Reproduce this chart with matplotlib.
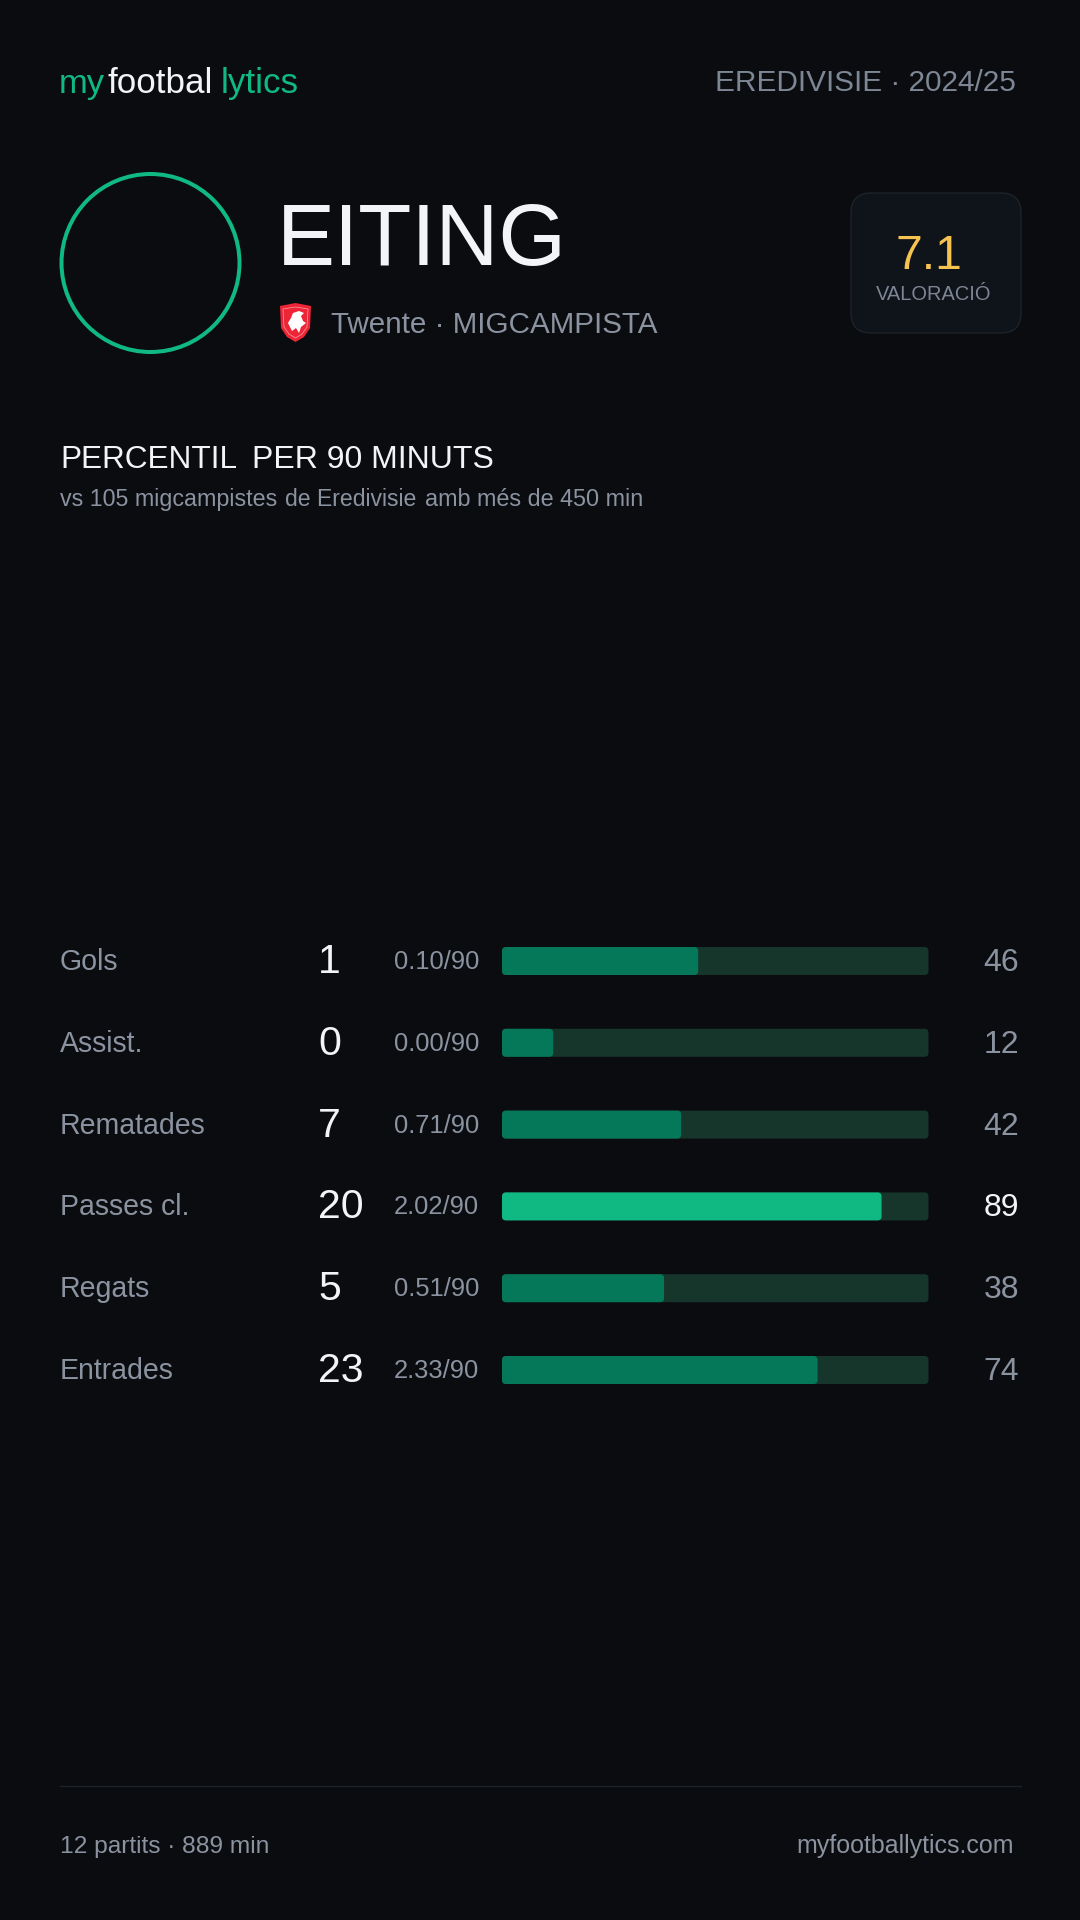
import matplotlib
matplotlib.use('Agg')
import matplotlib.pyplot as plt
from matplotlib.patches import Circle, FancyBboxPatch, Polygon

labels = ['Gols', 'Assist.', 'Rematades', 'Passes cl.', 'Regats', 'Entrades']
totals = [1, 0, 7, 20, 5, 23]
per90 = ['0.10/90', '0.00/90', '0.71/90', '2.02/90', '0.51/90', '2.33/90']
percentiles = [46, 12, 42, 89, 38, 74]

BG = '#0a0c10'
GREEN = '#10b981'
DIM_GREEN = '#06785a'
TRACK = '#16352b'
GRAY = '#8b93a1'
WHITE = '#f2f4f7'

plt.rcParams['font.family'] = ['Liberation Sans', 'DejaVu Sans']

fig = plt.figure(figsize=(10.8, 19.2), dpi=100, facecolor=BG)
# whole-card axes in pixels, y downwards
ax = fig.add_axes([0, 0, 1, 1])
ax.set_xlim(0, 1080)
ax.set_ylim(1920, 0)
ax.axis('off')


def put(x, y, s, px, color=GRAY, ha='left', **kw):
    # y is the baseline, px the font size in pixels
    ax.text(x, y, s, fontsize=px * 0.72, color=color, ha=ha, va='baseline', **kw)


# header
put(59, 93, 'my', 34.5, GREEN)
put(108, 93, 'footbal', 35, WHITE)
put(221, 93, 'lytics', 35, GREEN)
put(1016, 91, 'EREDIVISIE · 2024/25', 29.8, '#7d8694', ha='right')

# player
ax.add_patch(Circle((150.5, 263), 89, fill=False, ec=GREEN, lw=4 * 0.72))
put(277, 265, 'EITING', 87, WHITE)
put(331, 333, 'Twente · MIGCAMPISTA', 29.6, GRAY)

# crest
ax.add_patch(Polygon([(280, 306), (295.5, 303), (311, 306), (310, 328), (304, 337), (295.5, 342), (287, 337), (281, 328)],
                     closed=True, fc='#ee2536', ec='none'))
ax.add_patch(Polygon([(283, 309), (295.5, 307), (308, 309), (307, 327), (302, 334), (295.5, 338), (289, 334), (284, 327)],
                     closed=True, fc='none', ec='#f7a3aa', lw=0.5))
ax.add_patch(Polygon([(288, 323), (291, 318), (293, 313), (299, 311), (304, 313), (301, 316), (303, 321), (306, 323),
                      (301, 327), (299, 333), (296, 328), (292, 331)],
                     closed=True, fc='white', ec='none'))

# rating card
ax.add_patch(FancyBboxPatch((867, 209), 138, 108, boxstyle='round,pad=16,rounding_size=20',
                            fc='#0f131a', ec='#1e2229', lw=1))
put(929, 269, '7.1', 48, '#f6c350', ha='center')
put(934, 300.5, 'VALORACIÓ', 20, '#7d8694', ha='center')

# section title
put(60, 468, 'PERCENTIL', 31.5, WHITE)
put(252, 468, 'PER 90 MINUTS', 32, WHITE)
put(59.5, 506, 'vs 105 migcampistes', 23.2)
put(285, 506, 'de Eredivisie', 23)
put(425, 506, 'amb més de 450 min', 23.4)

# rows
row0 = 961
pitch = 81.8
bar_left, bar_right = 502, 928.5
n = len(labels)
top = row0 - pitch / 2
bax = fig.add_axes([bar_left / 1080, 1 - (top + n * pitch) / 1920, (bar_right - bar_left) / 1080, n * pitch / 1920])
bax.set_xlim(0, 100)
bax.set_ylim(n - 0.5, -0.5)
bax.axis('off')
sx = (bar_right - bar_left) / 100
sy = pitch
h = 28 / sy
r = 4 / sx


def bar(i, pct, color, z):
    bax.add_patch(FancyBboxPatch((r, i - h / 2 + r * sx / sy), pct - 2 * r, h - 2 * r * sx / sy,
                                 boxstyle=f'round,pad={r},rounding_size={r}', mutation_aspect=sx / sy,
                                 fc=color, ec='none', zorder=z))


for i in range(n):
    y = row0 + i * pitch
    best = percentiles[i] >= 80
    bar(i, 100, TRACK, 1)
    bar(i, percentiles[i], GREEN if best else DIM_GREEN, 2)
    put(59.5, y + 9, labels[i], 28.5)
    put(318, y + 12, str(totals[i]), 41, WHITE)
    put(394, y + 8, per90[i], 25.5)
    put(1019, y + 10, str(percentiles[i]), 32, WHITE if best else GRAY, ha='right')

# footer
ax.plot([60, 1021], [1786, 1786], color='#1e2228', lw=1)
put(59.5, 1853, '12 partits · 889 min', 24.5)
put(1013.5, 1853, 'myfootballytics.com', 25, ha='right')

fig.savefig('out.png', dpi=100, facecolor=BG)
